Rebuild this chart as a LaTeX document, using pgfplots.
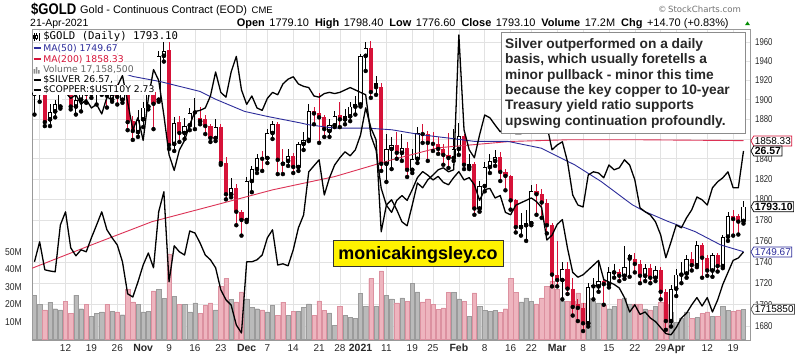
\documentclass[border=0pt]{standalone}
\usepackage{fontspec}
\setmainfont{Liberation Sans}
\newfontfamily\dejavu{DejaVu Sans}
\newfontfamily\dejavumono{DejaVu Sans Mono}
\usepackage{graphicx}
\usepackage{pgfplots}
\usepackage{pgfplotstable}
\pgfplotsset{compat=1.18}
\usetikzlibrary{shapes.symbols}

\definecolor{cred}{RGB}{214,18,56}
\definecolor{mablue}{RGB}{45,45,155}
\definecolor{mared}{RGB}{220,50,85}
\definecolor{vpink}{RGB}{238,180,190}
\definecolor{vpinkd}{RGB}{220,145,160}
\definecolor{vgray}{RGB}{186,186,186}
\definecolor{vgrayd}{RGB}{155,155,155}
\definecolor{gridc}{RGB}{226,226,226}
\definecolor{txtg}{RGB}{40,40,40}

\newcommand{\yl}[1]{\scalebox{0.78}[1]{#1}}
\newcommand{\vl}[1]{\scalebox{0.86}[1]{#1}}
\newcommand{\ml}[1]{{\bfseries\fontsize{10.5}{10.5}\selectfont #1}}

\pgfplotstableread{
i o h l c d f v sv cp
-6 1906 1917 1885 1907 0 0 25.3 23.80 4.25
-5 1907 1922 1898 1920 0 0 20.0 24.30 4.18
-4 1920 1927 1873 1877 1 1 17.0 23.60 4.10
-3 1880 1895 1873 1887 0 0 21.3 23.57 4.13
-2 1888 1900 1882 1895 0 0 17.6 23.55 4.06
-1 1893 1936 1891 1930 0 0 17.0 24.72 4.10
0 1930 1934 1918 1925 1 1 21.8 25.05 4.06
1 1925 1928 1890 1893 1 1 14.8 24.15 4.01
2 1893 1912 1885 1900 0 0 25.3 23.95 4.04
3 1900 1912 1888 1908 0 0 17.6 24.10 3.96
4 1910 1913 1897 1906 1 1 20.0 24.05 4.00
5 1906 1922 1902 1911 0 0 13.3 24.40 3.93
6 1911 1920 1895 1915 0 0 14.8 24.72 3.96
7 1912 1935 1905 1929 0 0 15.8 25.05 3.88
8 1928 1930 1892 1904 1 1 20.0 24.60 4.02
9 1900 1915 1898 1905 0 0 16.1 24.40 4.00
10 1905 1916 1895 1903 1 1 15.8 24.22 4.11
11 1900 1915 1897 1908 0 0 14.2 23.80 4.20
12 1908 1910 1869 1877 1 1 28.5 23.00 3.98
13 1878 1883 1859 1868 1 1 21.5 22.92 3.75
14 1867 1889 1862 1879 0 0 20.0 23.30 3.85
15 1880 1898 1872 1892 0 0 15.8 23.72 3.66
16 1893 1915 1890 1910 0 0 16.3 24.02 4.01
17 1908 1915 1870 1896 1 1 27.7 23.65 4.25
18 1900 1951 1898 1946 0 0 28.5 25.05 4.16
19 1946 1966 1940 1951 0 0 23.7 25.55 3.87
20 1952 1965 1850 1854 1 1 48.7 23.30 3.54
21 1855 1882 1848 1876 0 0 24.6 24.20 3.41
22 1877 1883 1857 1866 1 1 20.0 24.05 3.58
23 1866 1881 1860 1873 0 0 20.0 23.97 3.66
24 1874 1892 1869 1886 0 0 15.8 24.57 3.79
25 1888 1902 1870 1887 0 1 20.9 24.52 3.90
26 1878 1893 1875 1881 1 0 14.8 24.27 3.91
27 1880 1885 1865 1873 1 1 19.5 23.97 3.93
28 1873 1875 1857 1861 1 1 21.0 23.85 4.03
29 1861 1880 1858 1872 0 0 17.0 23.65 4.23
30 1872 1875 1834 1836 1 1 30.4 23.10 4.06
31 1836 1842 1800 1805 1 1 34.8 22.85 4.02
32 1805 1821 1802 1811 0 0 23.0 22.72 4.23
33 1811 1815 1775 1788 1 1 21.5 22.22 4.36
34 1788 1790 1765 1780 1 1 27.2 22.02 4.08
35 1780 1822 1778 1818 0 0 23.2 23.80 3.96
36 1818 1833 1807 1830 0 0 18.5 23.80 4.03
37 1830 1845 1826 1841 0 0 17.6 23.85 3.93
38 1841 1848 1828 1840 1 1 17.0 23.97 3.91
39 1841 1870 1836 1866 0 0 15.8 24.40 4.01
40 1866 1878 1860 1875 0 0 19.4 24.60 4.06
41 1875 1877 1825 1839 1 1 13.9 23.72 4.04
42 1835 1850 1825 1837 1 0 21.3 23.75 4.13
43 1838 1850 1833 1843 0 0 13.9 23.70 4.17
44 1843 1846 1826 1832 1 1 16.0 24.10 4.19
45 1832 1857 1828 1855 0 0 16.0 24.65 4.13
46 1855 1867 1849 1859 0 0 18.5 24.97 4.11
47 1859 1896 1858 1888 0 0 20.4 26.05 4.10
48 1888 1893 1875 1886 1 1 13.9 26.20 4.03
49 1886 1907 1856 1882 1 1 22.0 26.35 4.02
50 1882 1885 1862 1870 1 1 16.8 25.47 4.05
51 1868 1880 1862 1874 0 0 15.2 25.90 4.06
52 1874 1888 1872 1883 0 0 8.1 26.22 4.05
53 1885 1898 1872 1880 1 1 19.0 26.40 4.06
54 1880 1890 1875 1883 0 0 13.9 26.55 4.08
55 1883 1898 1878 1893 0 0 12.7 26.45 4.10
56 1893 1904 1885 1895 0 0 12.1 26.60 4.08
57 1895 1948 1893 1946 0 0 26.2 26.97 4.06
58 1946 1960 1930 1954 0 0 19.0 27.65 4.04
59 1954 1962 1902 1908 1 1 34.8 27.15 3.70
60 1918 1925 1905 1913 0 1 19.0 26.85 3.58
61 1913 1917 1828 1835 1 1 39.2 24.55 3.26
62 1835 1865 1817 1850 0 0 25.3 25.22 3.12
63 1850 1862 1830 1854 0 0 23.2 25.35 3.06
64 1854 1867 1840 1846 1 1 20.9 25.10 3.16
65 1846 1865 1838 1851 0 0 23.8 24.80 3.20
66 1851 1857 1822 1829 1 1 21.9 24.70 3.16
67 1829 1850 1826 1840 0 0 32.0 25.22 3.25
68 1840 1872 1836 1866 0 0 27.2 25.77 3.35
69 1866 1875 1856 1865 1 1 21.5 25.65 3.40
70 1865 1868 1838 1856 1 1 23.2 25.85 3.37
71 1856 1867 1848 1855 1 1 20.0 25.97 3.33
72 1855 1862 1845 1850 1 1 17.2 26.10 3.36
73 1850 1855 1834 1844 1 1 18.1 26.15 3.31
74 1844 1866 1831 1841 1 1 26.8 26.05 3.29
75 1841 1870 1838 1850 0 0 26.8 26.10 3.35
76 1850 1876 1844 1863 0 0 23.2 29.47 3.40
77 1863 1865 1830 1834 1 1 21.9 27.10 3.33
78 1832 1845 1830 1835 0 0 13.3 26.60 3.35
79 1835 1837 1785 1791 1 1 26.6 26.40 3.29
80 1791 1818 1788 1813 0 0 19.0 26.97 3.16
81 1813 1837 1808 1832 0 0 16.8 27.47 3.25
82 1832 1845 1826 1838 0 0 16.3 27.40 3.26
83 1838 1849 1833 1842 0 0 16.8 27.22 3.18
84 1842 1847 1818 1827 1 1 15.7 27.05 3.20
85 1827 1830 1809 1823 1 1 17.6 27.15 3.06
86 1823 1824 1790 1799 1 1 34.8 27.30 3.04
87 1799 1800 1768 1773 1 1 26.8 27.00 3.12
88 1773 1787 1765 1775 0 0 21.5 27.00 3.14
89 1775 1790 1760 1777 0 0 23.8 27.30 3.16
90 1777 1814 1775 1808 0 0 21.9 27.85 3.18
91 1808 1815 1785 1805 1 1 20.4 27.65 3.15
92 1805 1810 1782 1797 1 1 23.8 27.65 3.10
93 1797 1800 1767 1775 1 1 30.4 27.22 2.83
94 1775 1777 1717 1728 1 1 33.4 26.60 2.87
95 1728 1760 1717 1723 1 1 28.6 26.72 2.96
96 1723 1740 1705 1733 0 0 21.9 26.80 3.00
97 1733 1740 1710 1715 1 1 21.9 26.30 2.76
98 1715 1725 1690 1698 1 1 21.9 25.47 2.56
99 1701 1705 1685 1697 1 1 26.6 25.22 2.52
100 1697 1702 1676 1683 1 1 20.9 25.17 2.54
101 1683 1720 1680 1716 0 0 23.8 25.97 2.58
102 1718 1725 1705 1717 0 1 21.7 26.05 2.62
103 1717 1740 1712 1722 0 0 20.9 26.02 2.66
104 1722 1725 1700 1719 1 1 19.5 25.90 2.50
105 1719 1735 1716 1730 0 0 17.6 26.22 2.48
106 1730 1738 1725 1731 0 0 19.0 26.10 2.46
107 1731 1733 1722 1727 1 1 23.2 26.15 2.43
108 1727 1755 1724 1735 0 0 23.8 26.35 2.35
109 1746 1747 1726 1743 0 1 20.4 26.22 2.23
110 1743 1748 1730 1738 1 1 20.4 25.85 2.29
111 1738 1742 1720 1727 1 1 20.4 25.15 2.21
112 1727 1738 1722 1734 0 0 17.5 25.05 2.23
113 1734 1738 1720 1725 1 1 17.0 24.97 2.18
114 1725 1736 1722 1732 0 0 19.0 24.80 2.15
115 1732 1735 1705 1712 1 1 21.5 24.47 2.10
116 1712 1715 1677 1685 1 1 20.4 23.90 2.05
117 1685 1718 1680 1715 0 0 15.8 24.30 2.04
118 1715 1733 1708 1728 0 0 10.0 24.72 2.10
119 1728 1740 1720 1729 0 0 12.1 24.65 2.18
120 1729 1746 1725 1743 0 0 15.8 24.90 2.22
121 1743 1749 1732 1737 1 1 12.1 25.10 2.29
122 1737 1760 1735 1756 0 0 12.7 25.42 2.35
123 1756 1758 1725 1744 1 1 14.8 25.35 2.28
124 1744 1746 1727 1732 1 1 15.8 25.22 2.35
125 1732 1748 1726 1746 0 0 13.3 25.65 2.23
126 1746 1748 1731 1736 1 1 13.3 25.80 2.33
127 1736 1766 1734 1764 0 0 19.0 25.90 2.46
128 1764 1788 1760 1784 0 0 16.8 26.05 2.56
129 1784 1790 1765 1781 1 1 16.3 25.65 2.66
130 1784 1786 1766 1778.4 1 1 17.0 25.65 2.68
131 1779.1 1798.4 1776.6 1793.1 0 0 17.16 26.57 2.73
}\data

\pgfplotsset{base/.style={at={(32bp,20bp)}, anchor=south west, width=718bp, height=311bp,
  scale only axis, xmin=-6.48, xmax=132.26}}

\begin{document}
\begin{tikzpicture}[x=1bp,y=1bp]
\path[use as bounding box] (0,0) rectangle (803,360);
\fill[white] (0,0) rectangle (803,360);

% grid + price labels
\begin{axis}[base, ymode=log, ymin=1667.9, ymax=1974.7,
  axis line style={draw=black!40, line width=0.6bp},
  xtick={-5,0,5,10,15,20,25,30,35,39,44,49,53,57,62,67,71,76,81,86,90,95,100,105,110,115,118,124,129},
  xticklabels={,12,19,26,\ml{Nov},9,16,23,\ml{Dec},7,14,21,28,\ml{2021},11,19,25,\ml{Feb},8,16,22,\ml{Mar},8,15,22,29,\ml{Apr},12,19},
  ytick={1680,1700,1720,1740,1760,1780,1800,1820,1840,1860,1880,1900,1920,1940,1960},
  yticklabels={\yl{1680},\yl{1700},\yl{1720},\yl{1740},\yl{1760},\yl{1780},\yl{1800},\yl{1820},\yl{1840},,\yl{1880},\yl{1900},\yl{1920},\yl{1940},\yl{1960}},
  yticklabel pos=right,
  grid=major, major grid style={draw=gridc, line width=0.6bp},
  major tick length=0pt,
  tick label style={font=\fontsize{10}{10}\selectfont, text=txtg},
  xticklabel style={anchor=base, inner sep=0pt, yshift=-12bp},
  yticklabel style={anchor=west, inner sep=0pt, xshift=5bp},
]
\addplot[draw=none] coordinates {(0,1800)};
\end{axis}

% volume
\begin{axis}[base, ymin=-0.2, ymax=176.8,
  axis line style={draw=none}, xtick=\empty,
  ytick={10,20,30,40,50}, yticklabels={\vl{10M},\vl{20M},\vl{30M},\vl{40M},\vl{50M}},
  major tick length=0pt,
  yticklabel style={anchor=east, inner sep=0pt, xshift=-10bp, font=\fontsize{10}{10}\selectfont, text=txtg}]
\addplot[ybar, bar width=4.3bp, bar shift=0pt, fill=vgray, draw=vgrayd, line width=0.4bp,
  restrict expr to domain={\thisrow{d}}{0:0}] table[x=i, y=v] {\data};
\addplot[ybar, bar width=4.3bp, bar shift=0pt, fill=vpink, draw=vpinkd, line width=0.4bp,
  restrict expr to domain={\thisrow{d}}{1:1}] table[x=i, y=v] {\data};
\end{axis}

% candles and moving averages
\begin{axis}[base, hide axis, ymode=log, ymin=1667.9, ymax=1974.7]
\addplot[only marks, mark=none, restrict expr to domain={\thisrow{d}}{0:0},
  error bars/.cd, y dir=plus, y explicit, error mark=none,
  error bar style={draw=black, line width=0.9bp, solid}]
  table[x=i, y=l, y error plus expr=\thisrow{h}-\thisrow{l}] {\data};
\addplot[only marks, mark=none, restrict expr to domain={\thisrow{d}}{1:1},
  error bars/.cd, y dir=plus, y explicit, error mark=none,
  error bar style={draw=cred, line width=0.9bp, solid}]
  table[x=i, y=l, y error plus expr=\thisrow{h}-\thisrow{l}] {\data};
\addplot[only marks, mark=none, restrict expr to domain={\thisrow{d}}{0:0},
  error bars/.cd, y dir=plus, y explicit, error mark=none,
  error bar style={draw=black, line width=4.2bp, solid}]
  table[x=i, y expr={min(\thisrow{o},\thisrow{c})}, y error plus expr={abs(\thisrow{c}-\thisrow{o})}] {\data};
\addplot[only marks, mark=none, restrict expr to domain={\thisrow{d}}{1:1},
  error bars/.cd, y dir=plus, y explicit, error mark=none,
  error bar style={draw=cred, line width=4.2bp, solid}]
  table[x=i, y expr={min(\thisrow{o},\thisrow{c})}, y error plus expr={abs(\thisrow{c}-\thisrow{o})}] {\data};
\addplot[only marks, mark=none, restrict expr to domain={\thisrow{f}}{0:0},
  error bars/.cd, y dir=plus, y explicit, error mark=none,
  error bar style={draw=white, line width=2.5bp, solid, shorten <=0.85bp, shorten >=0.85bp}]
  table[x=i, y expr={min(\thisrow{o},\thisrow{c})}, y error plus expr={abs(\thisrow{c}-\thisrow{o})}] {\data};
\addplot[mared, line width=0.9bp] coordinates {(-7,1733) (5,1756.2) (16.7,1778.5) (28,1793.3) (40,1809.4) (52,1822.5) (63,1839.1) (72,1851.1) (86,1857.5) (97.5,1859.2) (109.5,1859.2) (131,1858.33)};
\addplot[mablue, line width=0.9bp] coordinates {(12,1926.0) (13,1924.2) (18.3,1919.0) (26,1908.6) (29.2,1900.0) (34.6,1888.0) (38.9,1882.9) (45.3,1876.2) (46.9,1874.5) (52,1871.1) (58.5,1871.1) (63.1,1869.4) (68.7,1864.3) (73.9,1861.0) (79.1,1857.5) (85.5,1857.5) (91.9,1850.8) (98.4,1834.1) (103.5,1817.6) (109.5,1794.8) (111.9,1788.3) (116.4,1778.6) (121.6,1768.9) (126.6,1756.2) (131,1749.67)};
\end{axis}

% silver overlay
\begin{axis}[base, hide axis, ymin=21.845, ymax=29.62]
\addplot[black, line width=1.3bp, line join=round] table[x=i, y=sv] {\data};
\end{axis}
% copper / 10y overlay
\begin{axis}[base, hide axis, ymin=1.9967, ymax=4.588]
\addplot[black, line width=1.3bp, line join=round] table[x=i, y=cp] {\data};
\end{axis}

% annotation box
\draw[fill=white, draw=black!45, line width=0.6bp] (501,227) rectangle (745,328);
\begin{scope}[every node/.style={anchor=base west, inner sep=0pt, text=txtg, font=\bfseries\fontsize{13.8}{13.8}\selectfont}]
\node at (505,311.8) {Silver outperformed on a daily};
\node at (505,296.4) {basis, which usually foretells a};
\node at (505,281.0) {minor pullback - minor this time};
\node at (505,265.6) {because the key copper to 10-year};
\node at (505,250.2) {Treasury yield ratio supports};
\node at (505,234.8) {upswing continuation profoundly.};
\end{scope}

% website box
\draw[fill=yellow, draw=black!80, line width=0.8bp] (333,94) rectangle (503,120);
\node[anchor=base, inner sep=0pt, font=\bfseries\fontsize{18}{18}\selectfont] at (418,101) {monicakingsley.co};

% legend
\begin{scope}[every node/.style={anchor=west, fill=white, inner sep=0.6bp}]
\node[font=\dejavumono\fontsize{10.7}{10.7}\selectfont] at (42.5,323.3) {\$GOLD (Daily) 1793.10};
\node[font=\dejavu\fontsize{9.3}{9.3}\selectfont, text=mablue] at (42.5,311.7) {MA(50) 1749.67};
\node[font=\dejavu\fontsize{9.3}{9.3}\selectfont, text=cred] at (42.5,300.7) {MA(200) 1858.33};
\node[font=\dejavu\fontsize{9.3}{9.3}\selectfont, text=black!60] at (42.5,290) {Volume 17,158,500};
\node[font=\dejavu\fontsize{9.3}{9.3}\selectfont] at (42.5,280) {\$SILVER 26.57,};
\node[font=\dejavu\fontsize{9.3}{9.3}\selectfont] at (42.5,270) {\$COPPER:\$UST10Y 2.73};
\end{scope}
\fill[white] (32.5,318) rectangle (42.5,328);
\draw[black, line width=0.7bp] (34,319) -- (34,327) (36.5,320) -- (36.5,326.5) (39,319.5) -- (39,327);
\fill[black] (33.2,321) rectangle (34.8,325);
\draw[black, line width=0.5bp, fill=white] (35.7,321.5) rectangle (37.3,325);
\fill[white] (32.5,265) rectangle (42.5,316);
\draw[mablue, line width=2bp] (33.5,311.7) -- (41,311.7);
\draw[cred, line width=2bp] (33.5,300.7) -- (41,300.7);
\fill[black!45] (33.5,286.5) rectangle (35,291) (35.8,286.5) rectangle (37.3,293) (38.1,286.5) rectangle (39.6,290);
\draw[black, line width=2bp] (33.5,280) -- (41,280);
\draw[black, line width=2bp] (33.5,270) -- (41,270);

% header
\node[anchor=base west, inner sep=0pt] at (31,346) {\scalebox{0.85}[1]{\bfseries\fontsize{15.5}{15.5}\selectfont \$GOLD}};
\node[anchor=base west, inner sep=0pt, font=\fontsize{11}{11}\selectfont] at (80,346.5) {Gold - Continuous Contract (EOD)};
\node[anchor=base west, inner sep=0pt, font=\fontsize{9.5}{9.5}\selectfont] at (251.5,346.5) {CME};
\node[anchor=base west, inner sep=0pt, font=\fontsize{10.5}{10.5}\selectfont] at (30,333.3) {21-Apr-2021};
\node[anchor=base west, inner sep=0pt, font=\fontsize{11}{11}\selectfont] at (236.7,333.3)
 {\textbf{Open}\hspace{4.5bp}1779.10\hspace{6bp}\textbf{High}\hspace{4.5bp}1798.40\hspace{6bp}\textbf{Low}\hspace{4.5bp}1776.60\hspace{6bp}\textbf{Close}\hspace{4.5bp}1793.10\hspace{6bp}\textbf{Volume}\hspace{4.5bp}17.2M\hspace{6bp}\textbf{Chg}\hspace{4.5bp}+14.70 (+0.83\%)};
\fill[green!55!black] (745,334.8) -- (750,334.8) -- (747.5,338.6) -- cycle;
\node[anchor=base west, inner sep=0pt, text=black!55, font=\dejavu\fontsize{8.6}{8.6}\selectfont] at (658,347.5) {\textcopyright\,StockCharts.com};

% right side value tags
\begin{scope}[every node/.style={signal, signal to=west, signal pointer angle=120, fill=white, anchor=west, inner sep=1.0bp, minimum height=10bp, line width=0.7bp}]
\node[draw=cred, font=\fontsize{10}{10}\selectfont] at (750.5,219.1) {1858.33};
\node[draw=black, font=\bfseries\fontsize{10.5}{10.5}\selectfont] at (750.5,209) {26.57};
\node[draw=black, font=\bfseries\fontsize{10.5}{10.5}\selectfont] at (750.5,153.3) {1793.10};
\node[draw=mablue, text=mablue, font=\fontsize{10}{10}\selectfont] at (750.5,108.1) {1749.67};
\node[draw=black!70, font=\fontsize{10}{10}\selectfont] at (750.5,50.8) {1715850};
\end{scope}
\end{tikzpicture}
\end{document}
